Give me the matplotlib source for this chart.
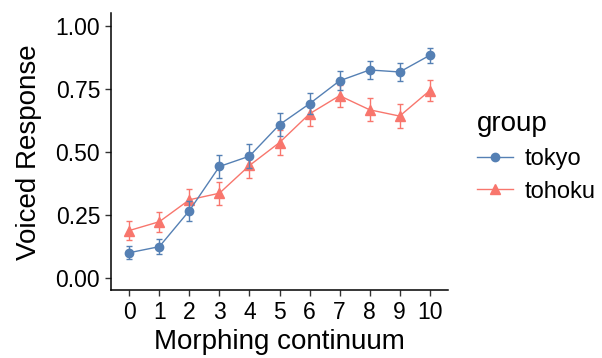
import numpy as np
from matplotlib import pyplot as plt
from matplotlib.lines import Line2D

plt.rcParams['font.family'] = ['Liberation Sans', 'DejaVu Sans']

steps = list(range(11))
tokyo = [0.099, 0.123, 0.266, 0.441, 0.482, 0.607, 0.690, 0.781, 0.824, 0.816, 0.882]
tokyo_se = [0.026, 0.030, 0.040, 0.046, 0.047, 0.045, 0.042, 0.038, 0.034, 0.036, 0.029]
tohoku = [0.187, 0.222, 0.309, 0.335, 0.445, 0.536, 0.650, 0.722, 0.666, 0.641, 0.742]
tohoku_se = [0.038, 0.040, 0.042, 0.046, 0.048, 0.048, 0.048, 0.044, 0.046, 0.047, 0.042]

blue = '#5580B4'
red = '#F8766D'

fig = plt.figure(figsize=(6.02, 3.58), dpi=100)
ax = fig.add_axes([111 / 602, 68 / 358, 337 / 602, 277 / 358])

ax.errorbar(steps, tokyo, yerr=tokyo_se, color=blue, marker='o', markersize=6,
            lw=1, elinewidth=1, capsize=2.5, capthick=1, zorder=3)
ax.errorbar(steps, tohoku, yerr=tohoku_se, color=red, marker='^', markersize=7.5,
            lw=1, elinewidth=1, capsize=2.5, capthick=1, zorder=2)

ax.set_xlim(-0.61, 10.61)
ax.set_ylim(-0.049, 1.05)
ax.set_xticks(steps)
ax.set_yticks([0, 0.25, 0.5, 0.75, 1.0])
ax.set_yticklabels(['0.00', '0.25', '0.50', '0.75', '1.00'])
ax.tick_params(labelsize=16.5, colors='#333333', labelcolor='black', length=4.3, width=1)
for s in ['top', 'right']:
    ax.spines[s].set_visible(False)
for s in ['left', 'bottom']:
    ax.spines[s].set_linewidth(1.1)
ax.set_xlabel('Morphing continuum', fontsize=20, labelpad=4)
ax.set_ylabel('Voiced Response', fontsize=20)
ax.yaxis.set_label_coords(-0.205, 0.497)

handles = [Line2D([], [], color=blue, marker='o', markersize=6, lw=1),
           Line2D([], [], color=red, marker='^', markersize=7, lw=1)]
leg = fig.legend(handles, ['tokyo', 'tohoku'], title='group', loc='upper left',
                 bbox_to_anchor=(456 / 602, 1 - 90 / 358), frameon=False,
                 fontsize=17, title_fontsize=20, handlelength=1.5, handletextpad=0.5,
                 labelspacing=0.45)
leg._legend_box.align = 'left'

fig.savefig('out.png', dpi=100)
